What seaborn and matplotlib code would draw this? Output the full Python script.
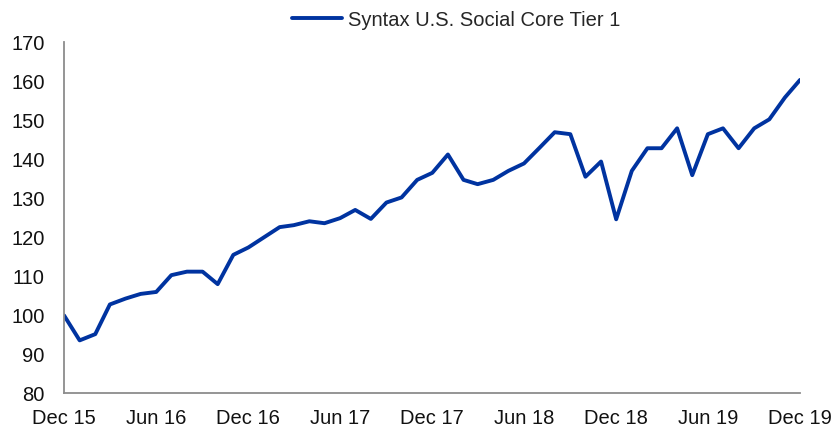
import pandas as pd
import numpy as np
import matplotlib
matplotlib.use('Agg')
import matplotlib.pyplot as plt
import matplotlib.dates as mdates
import seaborn as sns

# Monthly index level, Dec 2015 = 100
months = pd.date_range('2015-12-01', '2019-12-01', freq='MS')
index_values = [
    100.0, 93.6, 95.2, 102.8, 104.3, 105.5, 106.0, 110.3, 111.2, 111.2,
    108.0, 115.5, 117.4, 120.0, 122.6, 123.1, 124.1, 123.6, 124.9, 127.0,
    124.7, 128.9, 130.2, 134.7, 136.5, 141.2, 134.7, 133.6, 134.7, 137.0,
    138.9, 142.8, 146.9, 146.4, 135.5, 139.4, 124.6, 137.0, 142.8, 142.8,
    147.9, 135.9, 146.4, 147.9, 142.8, 147.9, 150.2, 155.8, 160.3,
]
series_name = 'Syntax U.S. Social Core Tier 1'
y_ticks = [80, 90, 100, 110, 120, 130, 140, 150, 160, 170]

df = pd.DataFrame({'date': months, 'value': index_values, 'series': series_name})

sns.set_style('white')
plt.rcParams['font.family'] = ['Liberation Sans', 'DejaVu Sans']

fig = plt.figure(figsize=(8.36, 4.30), dpi=100)
ax = fig.add_axes([0.0766, 0.0849, 0.8804, 0.8174])

sns.lineplot(data=df, x='date', y='value', hue='series',
             palette=['#0033a0'], linewidth=2.8, ax=ax)

ax.set_xlim(months[0], months[-1])
ax.set_ylim(80, 170)
ax.set_yticks(y_ticks)
ax.xaxis.set_major_locator(mdates.MonthLocator(bymonth=[6, 12]))
ax.xaxis.set_major_formatter(mdates.DateFormatter('%b %y'))
ax.set_xlabel('')
ax.set_ylabel('')

for side in ['top', 'right']:
    ax.spines[side].set_visible(False)
for side in ['left', 'bottom']:
    ax.spines[side].set_color('#8c8c8c')
    ax.spines[side].set_linewidth(1.3)
ax.tick_params(axis='both', which='major', direction='out', length=5,
               width=1.3, color='#8c8c8c', labelsize=14.5, labelcolor='#111111')
ax.tick_params(axis='y', pad=9)
ax.tick_params(axis='x', pad=6)

leg = ax.legend(loc='center', bbox_to_anchor=(456 / 836, 1 - 20 / 430),
                bbox_transform=fig.transFigure, frameon=False, fontsize=14.5,
                handlelength=2.5, handletextpad=0.3)
for line in leg.get_lines():
    line.set_linewidth(2.8)

fig.savefig('out.png', dpi=100)
plt.close(fig)
